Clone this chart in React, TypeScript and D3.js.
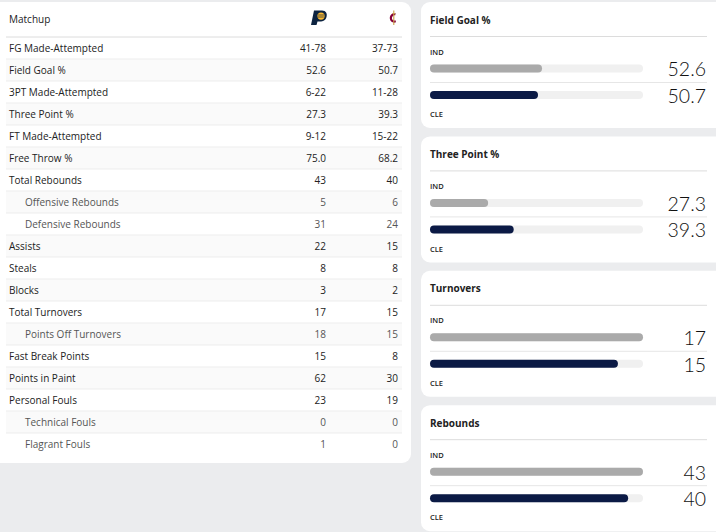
import React from "react";
import * as d3 from "d3";

// ---- data ----
const statLabels = [
  "FG Made-Attempted", "Field Goal %", "3PT Made-Attempted", "Three Point %",
  "FT Made-Attempted", "Free Throw %", "Total Rebounds", "Offensive Rebounds",
  "Defensive Rebounds", "Assists", "Steals", "Blocks", "Total Turnovers",
  "Points Off Turnovers", "Fast Break Points", "Points in Paint", "Personal Fouls",
  "Technical Fouls", "Flagrant Fouls",
];
const statIsSub = [
  false, false, false, false, false, false, false, true, true, false, false, false,
  false, true, false, false, false, true, true,
];
const indStats = [
  "41-78", "52.6", "6-22", "27.3", "9-12", "75.0", "43", "5", "31", "22", "8", "3",
  "17", "18", "15", "62", "23", "0", "1",
];
const cleStats = [
  "37-73", "50.7", "11-28", "39.3", "15-22", "68.2", "40", "6", "24", "15", "8", "2",
  "15", "15", "8", "30", "19", "0", "0",
];
const teams = ["IND", "CLE"];
const cardTitles = ["Field Goal %", "Three Point %", "Turnovers", "Rebounds"];
const cardInd = [52.6, 27.3, 17, 43];
const cardCle = [50.7, 39.3, 15, 40];
const cardIsPct = [true, true, false, false];

const W = 716;
const H = 532;
const FONT = "'Open Sans', 'Noto Sans', sans-serif";
const LIGHT_FONT = "Lato, 'Open Sans', sans-serif";

const rowScale = d3
  .scaleBand<number>()
  .domain(d3.range(statLabels.length))
  .range([37, 37 + 22 * statLabels.length])
  .padding(0);

const cardScale = d3
  .scaleLinear()
  .domain([0, 1])
  .range([2, 2 + 134.4]);

const TRACK_X = 430;
const TRACK_W = 213;

function PacersLogo({ x, y }: { x: number; y: number }) {
  return (
    <g transform={`translate(${x},${y})`}>
      <path
        d="M3,0 L11,0 C15,0 16.5,3 15.5,6.5 C14.5,10 12,11 9,11 L6.5,11 L5.5,14.5 L0,14.5 Z"
        fill="#0c2340"
      />
      <circle cx={10} cy={5.6} r={3.6} fill="#fdbb30" />
      <path d="M7,4.5 L13,4.5 M6.8,6.5 L12.8,6.5" stroke="#0c2340" strokeWidth={0.7} />
    </g>
  );
}

function CavsLogo({ x, y }: { x: number; y: number }) {
  return (
    <g transform={`translate(${x},${y})`}>
      <path
        d="M6,2.5 C2.5,2 0,4.8 0.3,8 C0.6,11.2 3.5,13 6.5,11.8 L6,9.8 C4,10.5 2.5,9.4 2.4,7.8 C2.3,5.8 4,4.3 5.8,4.8 Z"
        fill="#860038"
      />
      <path d="M4.3,0 L4.3,14.5" stroke="#c8a046" strokeWidth={1.1} />
      <path d="M3,3 L5.6,3" stroke="#c8a046" strokeWidth={0.9} />
    </g>
  );
}

export default function App() {
  const rows = statLabels.map((label, i) => {
    const top = rowScale(i) as number;
    const h = rowScale.bandwidth();
    const cy = top + h / 2;
    const sub = statIsSub[i];
    const color = sub ? "#555" : "#222";
    return (
      <g key={label}>
        {i % 2 === 1 && <rect x={6} y={top} width={396} height={h} fill="#fafafa" />}
        <line x1={6} x2={402} y1={top} y2={top} stroke={i === 0 ? "#dcdcdc" : "#ededed"} strokeWidth={1} />
        <text x={sub ? 25 : 9} y={cy} dy="0.35em" fontSize={10} fill={color} fontFamily={FONT}>
          {label}
        </text>
        <text x={326} y={cy} dy="0.35em" fontSize={10} fill={color} textAnchor="end" fontFamily={FONT}>
          {indStats[i]}
        </text>
        <text x={398} y={cy} dy="0.35em" fontSize={10} fill={color} textAnchor="end" fontFamily={FONT}>
          {cleStats[i]}
        </text>
      </g>
    );
  });

  const cards = cardTitles.map((title, i) => {
    const t = cardScale(i);
    const maxV = cardIsPct[i] ? 100 : Math.max(cardInd[i], cardCle[i]);
    const x = d3.scaleLinear().domain([0, maxV]).range([0, TRACK_W]);
    const vals = [cardInd[i], cardCle[i]];
    const barY = [t + 66.5, t + 93];
    return (
      <g key={title}>
        <rect x={421} y={t} width={310} height={126} rx={9} fill="#ffffff" />
        <text x={430} y={t + 18} dy="0.35em" fontSize={10} fontWeight={700} fill="#222" fontFamily={FONT}>
          {title}
        </text>
        <line x1={430} x2={707} y1={t + 34.5} y2={t + 34.5} stroke="#dcdcdc" />
        <line x1={430} x2={707} y1={t + 80.5} y2={t + 80.5} stroke="#e6e6e6" />
        <text x={430} y={t + 50} dy="0.35em" fontSize={7.5} fontWeight={600} fill="#222" fontFamily={FONT}>
          {teams[0]}
        </text>
        <text x={430} y={t + 112.5} dy="0.35em" fontSize={7.5} fontWeight={600} fill="#222" fontFamily={FONT}>
          {teams[1]}
        </text>
        {vals.map((v, j) => (
          <g key={j}>
            <rect x={TRACK_X} y={barY[j] - 4} width={TRACK_W} height={8} rx={4} fill="#f0f0f0" />
            <rect
              x={TRACK_X}
              y={barY[j] - 4}
              width={x(v)}
              height={8}
              rx={4}
              fill={j === 0 ? "#aaaaaa" : "#0b1a45"}
            />
            <text
              x={706}
              y={barY[j] + 1}
              dy="0.35em"
              fontSize={19.5}
              fontWeight={300}
              fill="#111"
              textAnchor="end"
              fontFamily={LIGHT_FONT}
            >
              {cardIsPct[i] ? v.toFixed(1) : String(v)}
            </text>
          </g>
        ))}
      </g>
    );
  });

  return (
    <svg
      width={W}
      height={H}
      style={{ position: "absolute", left: 0, top: 0, display: "block" }}
    >
      <rect x={0} y={0} width={W} height={H} fill="#ebecee" />
      <rect x={-10} y={2} width={421} height={461} rx={9} fill="#ffffff" />
      <text x={9} y={19} dy="0.35em" fontSize={10} fill="#222" fontFamily={FONT}>
        Matchup
      </text>
      <PacersLogo x={311} y={10.5} />
      <CavsLogo x={389.5} y={10.5} />
      {rows}
      {cards}
    </svg>
  );
}
